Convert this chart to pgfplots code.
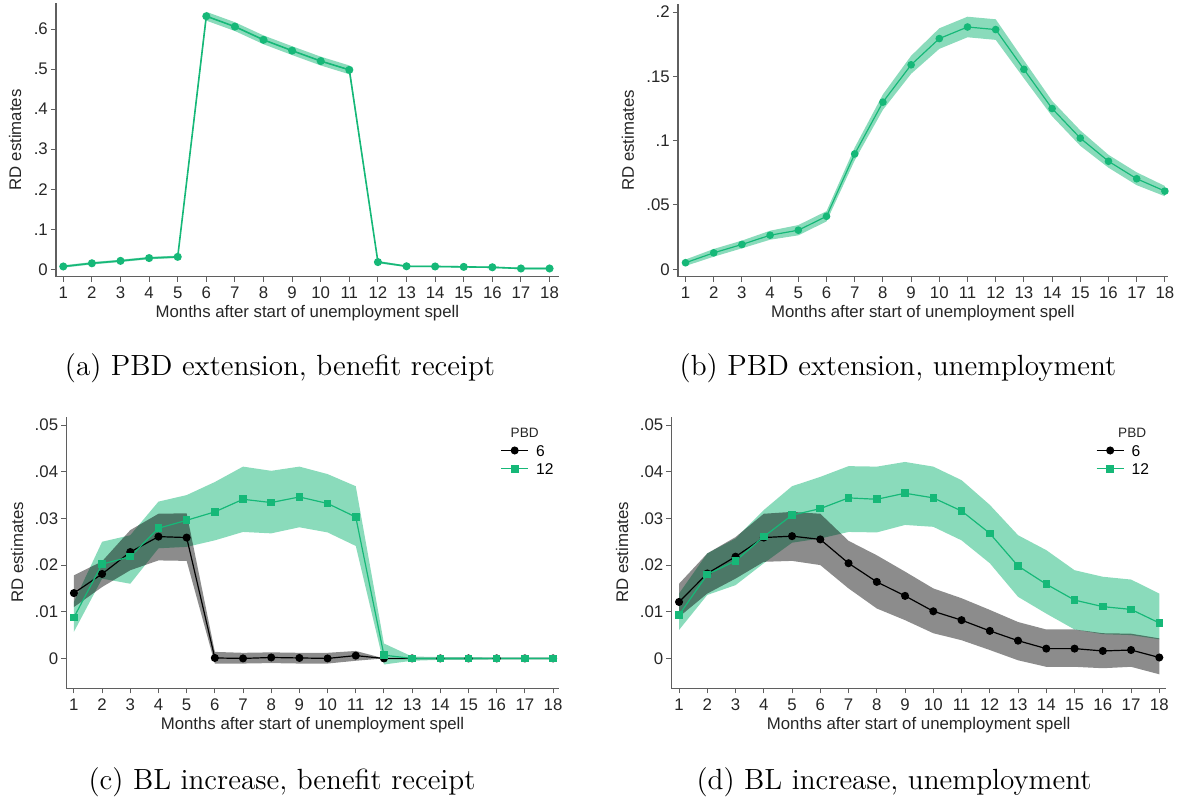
\documentclass[border=0pt]{standalone}
\usepackage{fontspec}
\usepackage{pgfplots}
\pgfplotsset{compat=1.18}
\usepackage{pgfplotstable}
\usepgfplotslibrary{fillbetween}
\newfontfamily\axisfont{Liberation Sans}
\definecolor{sgreen}{RGB}{22,184,120}
\definecolor{axgray}{RGB}{95,95,95}

\pgfplotstableread{
m est lo hi
1 0.007 0.004 0.010
2 0.015 0.012 0.018
3 0.021 0.018 0.024
4 0.028 0.025 0.031
5 0.031 0.028 0.034
6 0.632 0.621 0.643
7 0.606 0.595 0.617
8 0.573 0.562 0.584
9 0.546 0.535 0.557
10 0.520 0.509 0.531
11 0.498 0.487 0.509
12 0.018 0.015 0.021
13 0.0075 0.0055 0.0095
14 0.007 0.005 0.009
15 0.006 0.004 0.008
16 0.005 0.003 0.007
17 0.002 0.000 0.004
18 0.002 0.000 0.004
}\taba

\pgfplotstableread{
m est lo hi
1 0.0051 0.0026 0.0076
2 0.0128 0.0098 0.0158
3 0.0193 0.0163 0.0223
4 0.0265 0.0230 0.0300
5 0.0304 0.0264 0.0344
6 0.0412 0.0372 0.0452
7 0.0897 0.0847 0.0947
8 0.1300 0.1240 0.1360
9 0.1590 0.1520 0.1660
10 0.1794 0.1714 0.1874
11 0.1884 0.1804 0.1964
12 0.1864 0.1784 0.1944
13 0.1555 0.1485 0.1625
14 0.1250 0.1190 0.1310
15 0.1020 0.0960 0.1080
16 0.0840 0.0790 0.0890
17 0.0704 0.0654 0.0754
18 0.0608 0.0568 0.0648
}\tabb

\pgfplotstableread{
m b blo bhi g glo ghi
1 0.0140 0.0110 0.0178 0.0088 0.0057 0.0121
2 0.0181 0.0153 0.0208 0.0202 0.0171 0.0250
3 0.0228 0.0189 0.0275 0.0218 0.0160 0.0264
4 0.0261 0.0210 0.0310 0.0279 0.0236 0.0336
5 0.0259 0.0209 0.0311 0.0296 0.0239 0.0350
6 0.0001 -0.0011 0.0014 0.0314 0.0253 0.0378
7 0.0000 -0.0011 0.0012 0.0341 0.0271 0.0411
8 0.0002 -0.0010 0.0013 0.0334 0.0268 0.0402
9 0.0001 -0.0011 0.0012 0.0346 0.0281 0.0411
10 0.0000 -0.0011 0.0012 0.0332 0.0270 0.0395
11 0.0006 -0.0005 0.0016 0.0303 0.0241 0.0369
12 0.0000 0.0000 0.0000 0.0007 -0.0013 0.0032
13 0.0000 0.0000 0.0000 0.0000 -0.0005 0.0004
14 0.0000 0.0000 0.0000 0.0000 -0.0003 0.0003
15 0.0000 0.0000 0.0000 0.0000 -0.0003 0.0003
16 0.0000 0.0000 0.0000 0.0000 -0.0002 0.0002
17 0.0000 0.0000 0.0000 0.0000 -0.0002 0.0002
18 0.0000 0.0000 0.0000 0.0000 -0.0002 0.0002
}\tabc

\pgfplotstableread{
m b blo bhi g glo ghi
1 0.0121 0.0089 0.0160 0.0093 0.0061 0.0139
2 0.0182 0.0139 0.0225 0.0180 0.0136 0.0225
3 0.0218 0.0171 0.0260 0.0209 0.0157 0.0257
4 0.0259 0.0207 0.0310 0.0261 0.0204 0.0318
5 0.0262 0.0209 0.0314 0.0307 0.0248 0.0369
6 0.0255 0.0200 0.0310 0.0321 0.0257 0.0389
7 0.0204 0.0150 0.0252 0.0344 0.0271 0.0412
8 0.0164 0.0107 0.0221 0.0341 0.0270 0.0411
9 0.0134 0.0082 0.0186 0.0354 0.0286 0.0421
10 0.0101 0.0054 0.0150 0.0344 0.0282 0.0411
11 0.0082 0.0039 0.0129 0.0316 0.0253 0.0382
12 0.0059 0.0018 0.0104 0.0268 0.0204 0.0329
13 0.0038 -0.0004 0.0078 0.0198 0.0132 0.0264
14 0.0021 -0.0018 0.0062 0.0159 0.0096 0.0232
15 0.0021 -0.0018 0.0062 0.0125 0.0062 0.0189
16 0.0016 -0.0021 0.0054 0.0111 0.0052 0.0175
17 0.0018 -0.0018 0.0053 0.0105 0.0050 0.0169
18 0.0002 -0.0034 0.0043 0.0076 0.0041 0.0139
}\tabd

\pgfplotsset{
  stata/.style={
    scale only axis,
    anchor=south west,
    axis x line*=bottom,
    axis y line*=left,
    axis line style={axgray, line width=0.6pt},
    every tick/.style={axgray, line width=0.5pt},
    tick align=outside,
    major tick length=2.5pt,
    font=\axisfont\fontsize{8.4}{10}\selectfont,
    /pgf/number format/assume math mode=true,
    xtick={1,2,...,18},
    xticklabels={1,2,3,4,5,6,7,8,9,10,11,12,13,14,15,16,17,18},
    xticklabel style={anchor=base, yshift=-8.6pt, text=black!85},
    yticklabel style={anchor=east, inner sep=0pt, xshift=-1.4pt, text=black!85},
    xlabel={Months after start of unemployment spell},
    ylabel={RD estimates},
    xlabel style={at={(axis description cs:0.5,0)}, anchor=center, yshift=-18.2pt, text=black!85},
    clip=false,
  },
  cilegend/.style={
    legend style={draw=none, fill=none, inner sep=0pt, row sep=1.6pt,
      font=\axisfont\fontsize{7.8}{9}\selectfont,
      nodes={inner sep=1pt, text height=5.6pt, text depth=0pt},
      /tikz/every odd column/.append style={column sep=2.6pt}},
    legend cell align=left,
    legend image code/.code={\draw[mark repeat=2,mark phase=2,##1] plot coordinates {(0pt,0pt)(6.8pt,0pt)(13.6pt,0pt)};},
  },
}

\begin{document}
\begin{tikzpicture}

% ---------- (a) ----------
\begin{axis}[stata,
  at={(28pt,262.15pt)}, width=251.35pt, height=136.85pt,
  xmin=0.745, xmax=18.32, ymin=-0.0185, ymax=0.665,
  ytick={0,0.1,0.2,0.3,0.4,0.5,0.6},
  yticklabels={0,.1,.2,.3,.4,.5,.6},
  ylabel style={at={(axis description cs:0,0.5)}, anchor=center, xshift=0pt, yshift=20.5pt, text=black!85},
]
\addplot[name path=ahi, draw=none, forget plot] table[x=m,y=hi]{\taba};
\addplot[name path=alo, draw=none, forget plot] table[x=m,y=lo]{\taba};
\addplot[fill=sgreen, fill opacity=0.5, draw=none, forget plot] fill between[of=ahi and alo];
\addplot[sgreen, line width=0.8pt, mark=*, mark size=1.6pt] table[x=m,y=est]{\taba};
\end{axis}
\node[anchor=base, font=\fontsize{14.6}{17}\selectfont] at (140pt,212.5pt) {(a) PBD extension, benefit receipt};

% ---------- (b) ----------
\begin{axis}[stata,
  at={(338.95pt,262.15pt)}, width=244.9pt, height=136.35pt,
  xmin=0.73, xmax=18.1, ymin=-0.00575, ymax=0.2063,
  ytick={0,0.05,0.1,0.15,0.2},
  yticklabels={0,.05,.1,.15,.2},
  ylabel style={at={(axis description cs:0,0.5)}, anchor=center, yshift=25pt, text=black!85},
]
\addplot[name path=bhi, draw=none, forget plot] table[x=m,y=hi]{\tabb};
\addplot[name path=blo, draw=none, forget plot] table[x=m,y=lo]{\tabb};
\addplot[fill=sgreen, fill opacity=0.5, draw=none, forget plot] fill between[of=bhi and blo];
\addplot[sgreen, line width=0.6pt, mark=*, mark size=1.6pt] table[x=m,y=est]{\tabb};
\end{axis}
\node[anchor=base, font=\fontsize{14.6}{17}\selectfont] at (449pt,212.5pt) {(b) PBD extension, unemployment};

% ---------- (c) ----------
\begin{axis}[stata, cilegend,
  at={(33.15pt,56.35pt)}, width=246.2pt, height=135.8pt,
  xmin=0.73, xmax=18.2, ymin=-0.0064, ymax=0.0518,
  ytick={0,0.01,0.02,0.03,0.04,0.05},
  yticklabels={0,.01,.02,.03,.04,.05},
  scaled y ticks=false,
  ylabel style={at={(axis description cs:0,0.5)}, anchor=center, yshift=24.6pt, text=black!85},
  legend style={at={(0.881,0.905)}, anchor=north west},
]
\addplot[name path=cghi, draw=none, forget plot] table[x=m,y=ghi]{\tabc};
\addplot[name path=cglo, draw=none, forget plot] table[x=m,y=glo]{\tabc};
\addplot[fill=sgreen, fill opacity=0.5, draw=none, forget plot] fill between[of=cghi and cglo];
\addplot[name path=cbhi, draw=none, forget plot] table[x=m,y=bhi]{\tabc};
\addplot[name path=cblo, draw=none, forget plot] table[x=m,y=blo]{\tabc};
\addplot[fill=black, fill opacity=0.45, draw=none, forget plot] fill between[of=cbhi and cblo];
\addplot[black, line width=0.6pt, mark=*, mark size=1.7pt] table[x=m,y=b]{\tabc};
\addlegendentry{6}
\addplot[sgreen, line width=0.6pt, mark=square*, mark size=1.6pt] table[x=m,y=g]{\tabc};
\addlegendentry{12}
\node[font=\axisfont\fontsize{6.8}{8}\selectfont, text=black!85] at (rel axis cs:0.931,0.94) {PBD};
\end{axis}
\node[anchor=base, font=\fontsize{14.6}{17}\selectfont] at (141pt,5.5pt) {(c) BL increase, benefit receipt};

% ---------- (d) ----------
\begin{axis}[stata, cilegend,
  at={(335.7pt,56.35pt)}, width=247.2pt, height=135.8pt,
  xmin=0.73, xmax=18.23, ymin=-0.0064, ymax=0.0518,
  ytick={0,0.01,0.02,0.03,0.04,0.05},
  yticklabels={0,.01,.02,.03,.04,.05},
  scaled y ticks=false,
  ylabel style={at={(axis description cs:0,0.5)}, anchor=center, yshift=24.7pt, text=black!85},
  legend style={at={(0.858,0.905)}, anchor=north west},
]
\addplot[name path=dghi, draw=none, forget plot] table[x=m,y=ghi]{\tabd};
\addplot[name path=dglo, draw=none, forget plot] table[x=m,y=glo]{\tabd};
\addplot[fill=sgreen, fill opacity=0.5, draw=none, forget plot] fill between[of=dghi and dglo];
\addplot[name path=dbhi, draw=none, forget plot] table[x=m,y=bhi]{\tabd};
\addplot[name path=dblo, draw=none, forget plot] table[x=m,y=blo]{\tabd};
\addplot[fill=black, fill opacity=0.45, draw=none, forget plot] fill between[of=dbhi and dblo];
\addplot[black, line width=0.6pt, mark=*, mark size=1.7pt] table[x=m,y=b]{\tabd};
\addlegendentry{6}
\addplot[sgreen, line width=0.6pt, mark=square*, mark size=1.6pt] table[x=m,y=g]{\tabd};
\addlegendentry{12}
\node[font=\axisfont\fontsize{6.8}{8}\selectfont, text=black!85] at (rel axis cs:0.932,0.94) {PBD};
\end{axis}
\node[anchor=base, font=\fontsize{14.6}{17}\selectfont] at (447pt,5.5pt) {(d) BL increase, unemployment};

\pgfresetboundingbox
\path[use as bounding box] (0,0) rectangle (589pt,400.5pt);
\end{tikzpicture}
\end{document}
